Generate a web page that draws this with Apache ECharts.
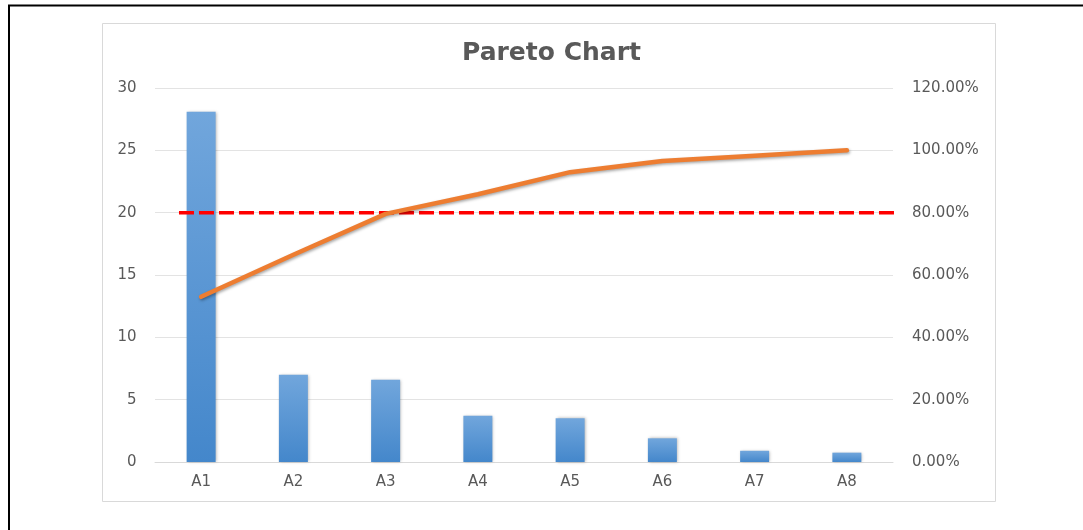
<!DOCTYPE html>
<html>
<head>
<meta charset="utf-8">
<script src="https://cdn.jsdelivr.net/npm/echarts@6/dist/echarts.min.js"></script>
<style>
html,body{margin:0;padding:0;background:#fff;}
#chart{width:1083px;height:530px;}
</style>
</head>
<body>
<div id="chart"></div>
<script>
// ---- data ----
const categories = ['A1','A2','A3','A4','A5','A6','A7','A8'];
const counts = [28.1, 7.0, 6.6, 3.7, 3.5, 1.9, 0.9, 0.75];
const cumulativePct = [53.0, 66.5, 79.6, 85.9, 93.0, 96.6, 98.3, 100.0];
const leftTicks = [0, 5, 10, 15, 20, 25, 30];
const rightTicks = [0, 20, 40, 60, 80, 100, 120];
const thresholdPct = 80;
const thresholdSpan = [0.26, 8.11]; // in category-band units
const titleText = 'Pareto Chart';

const FONT = 'DejaVu Sans';
const LABEL = '#595959';

const chart = echarts.init(document.getElementById('chart'), null, {renderer: 'canvas'});
chart.setOption({
  backgroundColor: '#ffffff',
  animation: false,
  title: {
    text: titleText,
    left: 457,
    top: 36,
    textStyle: {fontFamily: FONT, fontSize: 25, fontWeight: 'bold', color: LABEL}
  },
  graphic: [
    {type: 'rect', silent: true, z: -10,
     shape: {x: 9, y: 5.5, width: 1300, height: 800},
     style: {fill: null, stroke: '#000', lineWidth: 2}},
    {type: 'rect', silent: true, z: -10,
     shape: {x: 102.5, y: 23.5, width: 893, height: 478},
     style: {fill: null, stroke: '#d9d9d9', lineWidth: 1}}
  ],
  grid: {left: 155, right: 190, top: 88, bottom: 68, containLabel: false},
  xAxis: [
    {type: 'category', data: categories,
     axisLine: {lineStyle: {color: '#d9d9d9', width: 1}},
     axisTick: {show: false},
     axisLabel: {fontFamily: FONT, fontSize: 15, color: LABEL, margin: 13}},
    {type: 'value', min: 0, max: categories.length, show: false}
  ],
  yAxis: [
    {type: 'value', min: leftTicks[0], max: leftTicks[leftTicks.length-1],
     interval: leftTicks[1]-leftTicks[0],
     axisLine: {show: false}, axisTick: {show: false},
     splitLine: {lineStyle: {color: '#e3e3e3', width: 1}},
     axisLabel: {fontFamily: FONT, fontSize: 15, color: LABEL, margin: 18.5}},
    {type: 'value', min: rightTicks[0], max: rightTicks[rightTicks.length-1],
     interval: rightTicks[1]-rightTicks[0],
     axisLine: {show: false}, axisTick: {show: false}, splitLine: {show: false},
     axisLabel: {fontFamily: FONT, fontSize: 15, color: LABEL, margin: 19,
       formatter: v => v.toFixed(2) + '%'}}
  ],
  series: [
    {type: 'bar', data: counts, barWidth: 29, z: 2,
     itemStyle: {
       color: new echarts.graphic.LinearGradient(0,0,0,1,[
         {offset: 0, color: '#71a6dc'},
         {offset: 1, color: '#4487cb'}]),
       shadowBlur: 3, shadowColor: 'rgba(0,0,0,0.3)', shadowOffsetX: 1, shadowOffsetY: 0
     }},
    {type: 'line', xAxisIndex: 1, yAxisIndex: 1, z: 3, clip: false,
     data: thresholdSpan.map(x => [x, thresholdPct]),
     symbol: 'none', silent: true,
     lineStyle: {color: '#ff0000', width: 3.5, type: [15, 5]}},
    {type: 'line', yAxisIndex: 1, z: 4, data: cumulativePct,
     symbol: 'none', smooth: false,
     lineStyle: {color: '#ed7d31', width: 4.5, cap: 'round', join: 'round',
       shadowBlur: 3, shadowColor: 'rgba(0,0,0,0.35)', shadowOffsetX: 1, shadowOffsetY: 1.5}}
  ]
});
</script>
</body>
</html>
